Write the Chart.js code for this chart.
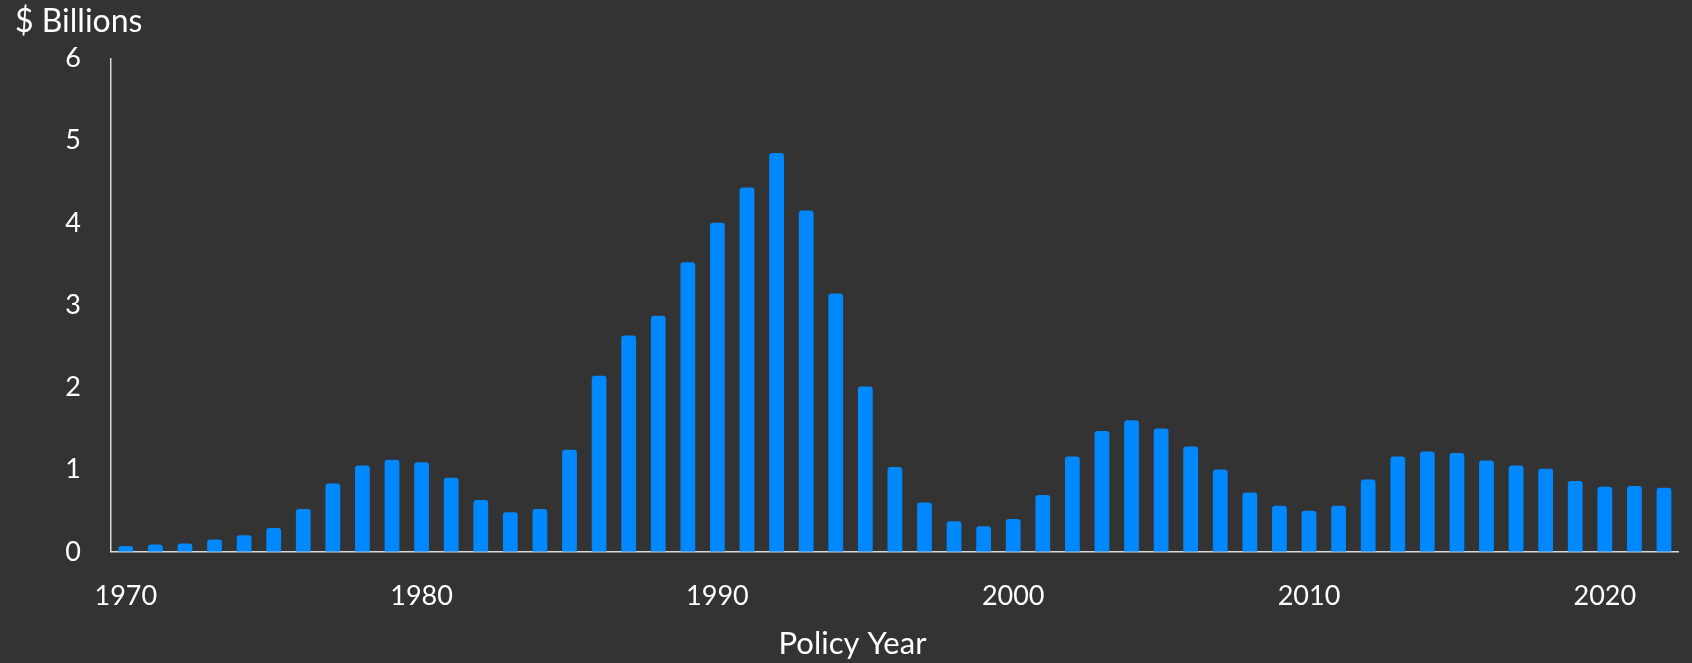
<!DOCTYPE html>
<html>
<head>
<meta charset="utf-8">
<script src="https://cdn.jsdelivr.net/npm/chart.js@4/dist/chart.umd.min.js"></script>
<style>
  html, body { margin: 0; padding: 0; background: #333333; }
  #wrap { width: 1692px; height: 663px; }
</style>
</head>
<body>
<div id="wrap"><canvas id="lossChart"></canvas></div>
<script>
const years = [];
for (let y = 1970; y <= 2022; y++) years.push(String(y));

// $ Billions per policy year
const losses = [
  0.07, 0.09, 0.10, 0.15, 0.20, 0.29, 0.52, 0.83, 1.05, 1.12,
  1.09, 0.90, 0.63, 0.48, 0.52, 1.24, 2.14, 2.63, 2.87, 3.52,
  4.00, 4.43, 4.85, 4.15, 3.14, 2.01, 1.03, 0.60, 0.37, 0.31,
  0.40, 0.69, 1.16, 1.47, 1.60, 1.50, 1.28, 1.00, 0.72, 0.56,
  0.50, 0.56, 0.88, 1.16, 1.22, 1.20, 1.11, 1.05, 1.01, 0.86,
  0.79, 0.80, 0.78
];

const yTicks = [0, 1, 2, 3, 4, 5, 6];

const fontFamily = "Lato, 'Open Sans', sans-serif";
const textColor = "#ffffff";
const axisColor = "#d9d9d9";

const ctx = document.getElementById("lossChart").getContext("2d");

new Chart(ctx, {
  type: "bar",
  data: {
    labels: years,
    datasets: [
      {
        data: losses,
        backgroundColor: "#0088ff",
        borderRadius: 3,
        borderSkipped: "bottom",
        barPercentage: 0.5,
        categoryPercentage: 1.0,
      },
    ],
  },
  options: {
    responsive: true,
    maintainAspectRatio: false,
    animation: false,
    layout: { padding: { left: 15, right: 2, top: 0, bottom: 0 } },
    plugins: {
      legend: { display: false },
      tooltip: { enabled: false },
      subtitle: {
        display: true,
        text: "$ Billions",
        position: "top",
        align: "start",
        color: textColor,
        font: { family: fontFamily, size: 32, weight: "normal" },
        padding: { top: 2, bottom: 18 },
      },
      title: {
        display: true,
        text: "Policy Year",
        position: "bottom",
        align: "center",
        color: textColor,
        font: { family: fontFamily, size: 31, weight: "normal" },
        padding: { top: 16, bottom: 0 },
      },
    },
    scales: {
      x: {
        afterFit: (scale) => { scale.height = 58; },
        grid: { display: false, drawTicks: false },
        border: { display: true, color: axisColor, width: 1.5 },
        ticks: {
          color: textColor,
          font: { family: fontFamily, size: 27 },
          padding: 28,
          autoSkip: false,
          maxRotation: 0,
          callback: function (value) {
            const label = this.getLabelForValue(value);
            return Number(label) % 10 === 0 ? label : "";
          },
        },
      },
      y: {
        min: yTicks[0],
        max: yTicks[yTicks.length - 1],
        afterFit: (scale) => { scale.width = 96; },
        afterBuildTicks: (scale) => { scale.ticks = yTicks.map((v) => ({ value: v })); },
        grid: { display: false, drawTicks: false },
        border: { display: true, color: axisColor, width: 1.5 },
        ticks: {
          color: textColor,
          font: { family: fontFamily, size: 27 },
          padding: 30,
        },
      },
    },
  },
});
</script>
</body>
</html>
